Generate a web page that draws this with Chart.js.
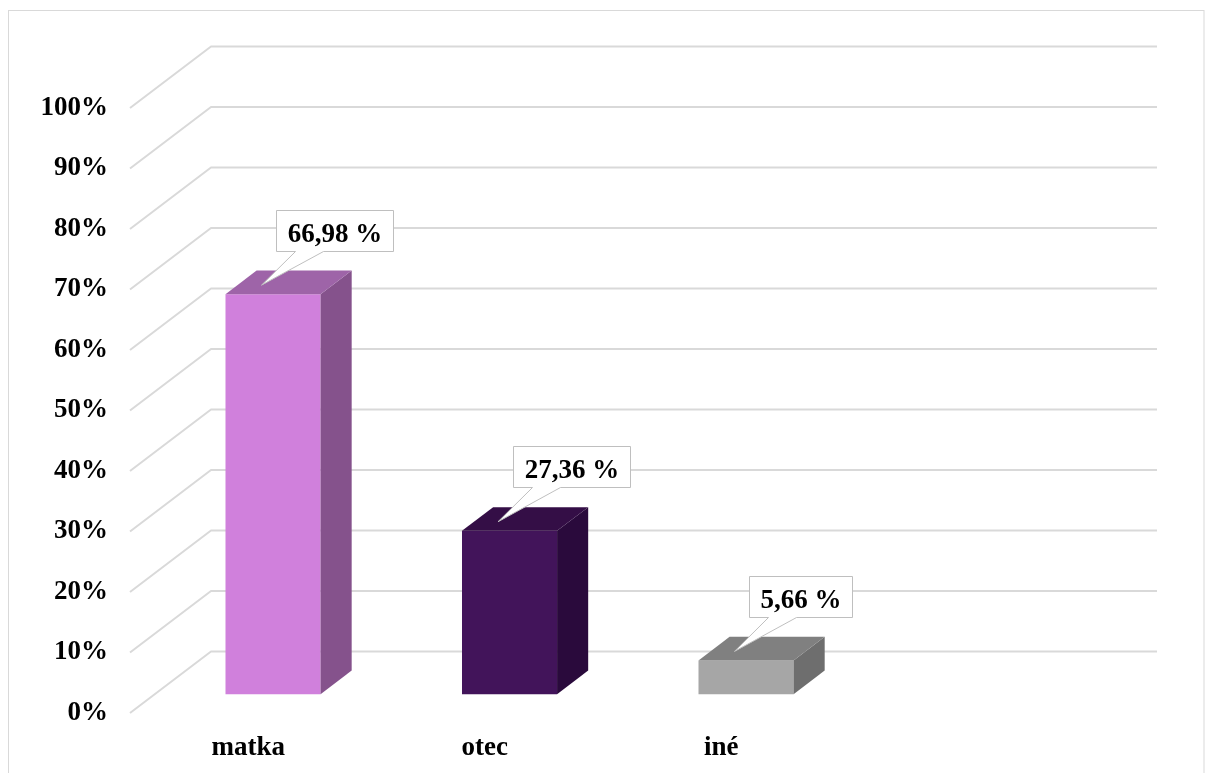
<!DOCTYPE html>
<html>
<head>
<meta charset="utf-8">
<script src="https://cdn.jsdelivr.net/npm/chart.js@4/dist/chart.umd.min.js"></script>
<style>
  html, body { margin: 0; padding: 0; background: #ffffff; }
  #wrap { position: relative; width: 1205px; height: 773px; }
  canvas { display: block; }
</style>
</head>
<body>
<div id="wrap"><canvas id="chart" width="1205" height="773"></canvas></div>
<script>
// Who the respondents named (share of answers, %)
const categories = ['matka', 'otec', 'iné', ''];
const shares = [66.98, 27.36, 5.66, null];
const shareLabels = ['66,98 %', '27,36 %', '5,66 %', ''];
const tickValues = [0, 10, 20, 30, 40, 50, 60, 70, 80, 90, 100];

const frontColors = ['#d080dc', '#42145a', '#a6a6a6', '#ffffff'];
const sideColors  = ['#85528c', '#2a0a3c', '#6e6e6e', '#ffffff'];
const topColors   = ['#9e64a8', '#340e46', '#808080', '#ffffff'];

const FONT = '"Liberation Serif", "Times New Roman", serif';
const FONT_SIZE = 27;
const GRID_COLOR = '#d9d9d9';

// oblique projection of the depth axis: full depth of the plot box
const DEPTH = { x: 81, y: -61.5 };
// the bars sit between these fractions of the depth
const BAR_FRONT = 0.306;
const BAR_BACK = 0.69;

const frame3d = {
  id: 'frame3d',
  beforeDraw(chart) {
    const ctx = chart.ctx;
    ctx.save();
    ctx.strokeStyle = GRID_COLOR;
    ctx.lineWidth = 1;
    ctx.strokeRect(8.5, 10.5, 1195.5, 800);
    ctx.restore();
  },
  beforeDatasetsDraw(chart) {
    const ctx = chart.ctx;
    const area = chart.chartArea;
    const y = chart.scales.y;
    ctx.save();
    ctx.strokeStyle = GRID_COLOR;
    ctx.lineWidth = 2;
    ctx.lineJoin = 'round';
    tickValues.forEach(v => {
      const py = y.getPixelForValue(v);
      ctx.beginPath();
      ctx.moveTo(area.left, py);
      ctx.lineTo(area.left + DEPTH.x, py + DEPTH.y);
      ctx.lineTo(area.right + DEPTH.x, py + DEPTH.y);
      ctx.stroke();
    });
    ctx.restore();
    // push the bar fronts back into the depth of the box
    ctx.save();
    ctx.translate(DEPTH.x * BAR_FRONT, DEPTH.y * BAR_FRONT);
  },
  afterDatasetsDraw(chart) {
    const ctx = chart.ctx;
    ctx.restore();
    const meta = chart.getDatasetMeta(0);
    const ox = DEPTH.x * BAR_FRONT, oy = DEPTH.y * BAR_FRONT;
    const bx = DEPTH.x * (BAR_BACK - BAR_FRONT), by = DEPTH.y * (BAR_BACK - BAR_FRONT);
    meta.data.forEach((bar, i) => {
      if (shares[i] == null) return;
      const p = bar.getProps(['x', 'y', 'base', 'width'], true);
      const left = p.x - p.width / 2 + ox;
      const right = p.x + p.width / 2 + ox;
      const top = p.y + oy;
      const bottom = p.base + oy;
      // side face
      ctx.fillStyle = sideColors[i];
      ctx.beginPath();
      ctx.moveTo(right, top);
      ctx.lineTo(right + bx, top + by);
      ctx.lineTo(right + bx, bottom + by);
      ctx.lineTo(right, bottom);
      ctx.closePath();
      ctx.fill();
      // top face
      ctx.fillStyle = topColors[i];
      ctx.beginPath();
      ctx.moveTo(left, top);
      ctx.lineTo(left + bx, top + by);
      ctx.lineTo(right + bx, top + by);
      ctx.lineTo(right, top);
      ctx.closePath();
      ctx.fill();

      // value callout
      ctx.font = 'bold ' + FONT_SIZE + 'px ' + FONT;
      const text = shareLabels[i];
      const tw = ctx.measureText(text).width;
      const bw = Math.round(tw + 22);
      const bh = 41;
      const bl = Math.round(left + 51) + 0.5;
      const bb = Math.round(top + by - 20) + 0.5;
      const bt = bb - bh;
      const tipX = left + 36, tipY = top - 9;
      ctx.beginPath();
      ctx.moveTo(bl, bt);
      ctx.lineTo(bl + bw, bt);
      ctx.lineTo(bl + bw, bb);
      ctx.lineTo(bl + 47, bb);
      ctx.lineTo(tipX, tipY);
      ctx.lineTo(bl + 19, bb);
      ctx.lineTo(bl, bb);
      ctx.closePath();
      ctx.fillStyle = '#ffffff';
      ctx.fill();
      ctx.strokeStyle = '#bfbfbf';
      ctx.lineWidth = 1;
      ctx.stroke();
      ctx.fillStyle = '#000000';
      ctx.textAlign = 'center';
      ctx.textBaseline = 'alphabetic';
      ctx.fillText(text, bl + bw / 2, bt + 31);
    });
  }
};

new Chart(document.getElementById('chart'), {
  type: 'bar',
  data: {
    labels: categories,
    datasets: [{
      data: shares,
      yAxisID: 'yb',
      backgroundColor: frontColors,
      borderWidth: 0,
      barPercentage: 0.402,
      categoryPercentage: 1,
      clip: false
    }]
  },
  options: {
    responsive: false,
    animation: false,
    devicePixelRatio: 1,
    layout: { padding: { left: 0, right: 129, top: 108, bottom: 0 } },
    plugins: { legend: { display: false }, tooltip: { enabled: false } },
    scales: {
      x: {
        grid: { display: false, drawTicks: false },
        border: { display: false },
        ticks: { color: '#000', font: { family: FONT, size: FONT_SIZE, weight: 'bold' }, padding: 19, maxRotation: 0 },
        afterFit(s) { s.height = 60; }
      },
      y: {
        min: 0, max: 100,
        grid: { display: false, drawTicks: false },
        border: { display: false },
        ticks: {
          stepSize: 10,
          color: '#000',
          padding: 22,
          font: { family: FONT, size: FONT_SIZE, weight: 'bold' },
          callback: v => v + '%'
        },
        afterFit(s) { s.width = 130; }
      },
      yb: {
        display: false,
        min: 0,
        max: 101.3
      }
    }
  },
  plugins: [frame3d]
});
</script>
</body>
</html>
